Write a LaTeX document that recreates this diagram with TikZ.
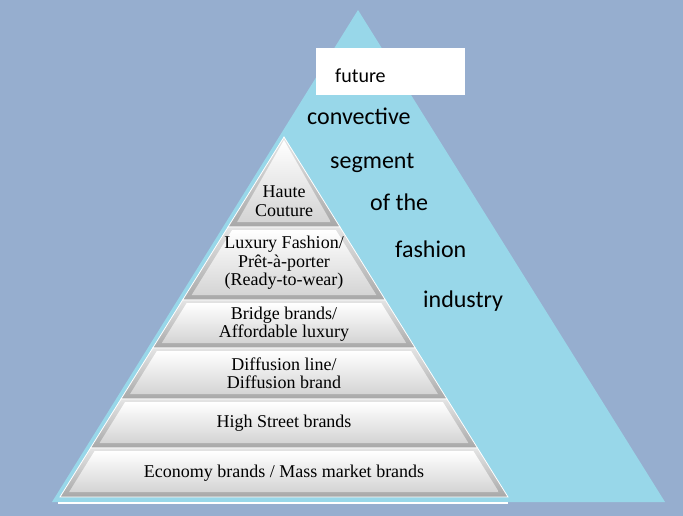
\documentclass[tikz,border=0pt]{standalone}
\usepackage{fontspec}
\setmainfont{Liberation Serif}
\newfontfamily\sansf{Carlito}
\begin{document}
\begin{tikzpicture}[x=1pt,y=-1pt]
\definecolor{bgblue}{RGB}{150,174,207}
\definecolor{aqua}{RGB}{152,215,233}
\definecolor{segdark}{RGB}{168,168,168}
\definecolor{segtop}{RGB}{228,228,228}
\definecolor{seglow}{RGB}{212,212,212}
\tikzset{
  segtext/.style={align=center,inner sep=0pt,font=\fontsize{18}{18.5}\selectfont},
  sidetext/.style={anchor=base west,inner sep=0pt,font=\sansf\fontsize{24}{24}\selectfont},
  segouter/.style={top color=segtop,bottom color=segdark,draw=white,line width=0.8pt},
  seginner/.style={top color=white,bottom color=seglow},
}
\newcommand\pyrseg[2]{%
  \pgfmathsetmacro\wt{0.62222*(#1-137)}%
  \pgfmathsetmacro\wb{0.62222*(#2-137)}%
  \pgfmathsetmacro\ti{#1+3}%
  \pgfmathsetmacro\bi{#2-5}%
  \pgfmathsetmacro\wti{max(0,0.62222*(\ti-137)-6)}%
  \pgfmathsetmacro\wbi{0.62222*(\bi-137)-6}%
  \shade[segouter] ({284-\wt},#1) -- ({284+\wt},#1) -- ({284+\wb},#2) -- ({284-\wb},#2) -- cycle;
  \shade[seginner] ({284-\wti},\ti) -- ({284+\wti},\ti) -- ({284+\wbi},\bi) -- ({284-\wbi},\bi) -- cycle;
}
\useasboundingbox (0,0) rectangle (683,516);
\fill[bgblue] (0,0) rectangle (683,516);
% big triangle
\fill[aqua] (358,10) -- (665,502) -- (52,502) -- cycle;
% white box
\fill[white] (316,48) rectangle (465,95);
\node[anchor=base west,inner sep=0pt,font=\sansf\fontsize{20}{20}\selectfont] (tfuture) at (335,83) {future};
\node[sidetext] (tconv) at (307,125) {convective};
\node[sidetext] (tseg) at (330,168) {segment};
\node[sidetext] (tof) at (370,210) {of the};
\node[sidetext] (tfash) at (395,257) {fashion};
\node[sidetext] (tind) at (423,307) {industry};
% pyramid
\fill[white] (58,501.5) rectangle (508,503.5);
\pyrseg{137}{227}
\pyrseg{227}{300}
\pyrseg{300}{348}
\pyrseg{348}{399}
\pyrseg{399}{448}
\pyrseg{448}{497}
\node[segtext] (haute) at (284,201) {Haute\\Couture};
\node[segtext] (luxury) at (284,263) {Luxury Fashion/\\Prêt-à-porter\\(Ready-to-wear)};
\node[segtext] (bridge) at (284,324) {Bridge brands/\\Affordable luxury};
\node[segtext] (diffusion) at (284,373) {Diffusion line/\\Diffusion brand};
\node[segtext] (highst) at (284,423) {High Street brands};
\node[segtext] (economy) at (284,473) {Economy brands / Mass market brands};
\end{tikzpicture}
\end{document}
